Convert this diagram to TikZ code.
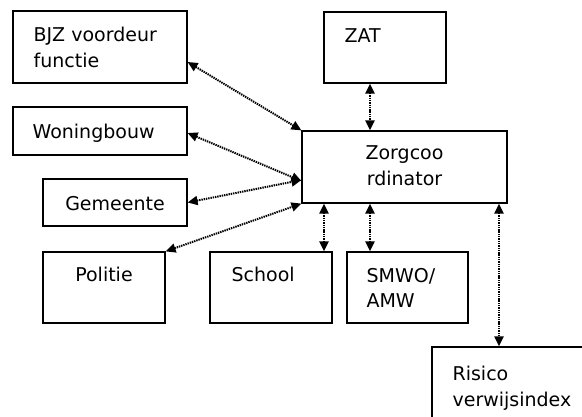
\documentclass[tikz,border=0pt]{standalone}
\usepackage{fontspec}
\setmainfont{DejaVu Sans}
\usepackage{tikz}
\usetikzlibrary{positioning,arrows.meta}

\begin{document}
\begin{tikzpicture}[
        x=1pt, y=-1pt,
        % kaders
        orgbox/.style={draw=black, line width=1.2pt, rectangle, inner sep=0pt},
        % tekst links boven in een kader
        boxtext/.style={inner sep=0pt, align=left, anchor=north west,
            font=\fontsize{19}{25.5}\selectfont},
        % tekst gecentreerd
        midtext/.style={boxtext, align=center, anchor=north},
        % stippellijn met twee pijlpunten
        link/.style={line width=2pt, dash pattern=on 1.4pt off 0.9pt,
            {Triangle[length=10pt,width=9pt]}-{Triangle[length=10pt,width=9pt]}}
    ]
    \useasboundingbox (0,0) rectangle (582,417);

    % --- KADERS ---
    \node[orgbox, minimum width=174pt, minimum height=72pt] (bjz) at (100,47) {};
    \node[orgbox, minimum width=174pt, minimum height=48pt] (woning) at (100,131) {};
    \node[orgbox, minimum width=144pt, minimum height=47pt] (gemeente) at (115,202.5) {};
    \node[orgbox, minimum width=122pt, minimum height=71pt] (politie) at (104,287.5) {};
    \node[orgbox, minimum width=122pt, minimum height=71pt] (school) at (271,287.5) {};
    \node[orgbox, minimum width=121pt, minimum height=71pt] (smwo) at (407.5,287.5) {};
    \node[orgbox, minimum width=122pt, minimum height=71pt] (zat) at (385,47.5) {};
    \node[orgbox, minimum width=205pt, minimum height=72pt] (zorg) at (404.5,167) {};
    \node[orgbox, minimum width=168pt, minimum height=90pt] (risico) at (516,392) {};

    % --- TEKSTEN ---
    \node[boxtext] (bjz-t) at ([shift={(21,16.5)}]bjz.north west) {BJZ voordeur\\functie};
    \node[boxtext] (woning-t) at ([shift={(20,17.5)}]woning.north west) {Woningbouw};
    \node[midtext] (gemeente-t) at ([yshift=-17.5pt]gemeente.north) {Gemeente};
    \node[midtext] (politie-t) at ([yshift=-15.5pt]politie.north) {Politie};
    \node[boxtext] (school-t) at ([shift={(22,15.5)}]school.north west) {School};
    \node[boxtext] (smwo-t) at ([shift={(20,16.5)}]smwo.north west) {SMWO/\\AMW};
    \node[boxtext] (zat-t) at ([shift={(21,17.5)}]zat.north west) {ZAT};
    \node[midtext] (zorg-t) at ([yshift=-15.5pt]zorg.north) {Zorgcoo\\rdinator};
    \node[boxtext] (risico-t) at ([shift={(21,19.5)}]risico.north west) {Risico\\verwijsindex};

    % --- VERBINDINGEN ---
    \draw[link] ([yshift=-15pt]bjz.east) -- (zorg.north west);
    \draw[link] ([yshift=-2pt]woning.east) -- ([yshift=-14pt]zorg.west);
    \draw[link] (gemeente.east) -- ([yshift=-13pt]zorg.west);
    \draw[link] (politie.north east) -- (zorg.south west);
    \draw[link] ([xshift=-15pt]zat.south) -- ([xshift=-34.5pt]zorg.north);
    \draw[link] ([xshift=-80.5pt]zorg.south) -- ([xshift=53pt]school.north);
    \draw[link] ([xshift=-34.5pt]zorg.south) -- ([xshift=-37.5pt]smwo.north);
    \draw[link] ([xshift=94.5pt]zorg.south) -- ([xshift=-17pt]risico.north);
\end{tikzpicture}
\end{document}
